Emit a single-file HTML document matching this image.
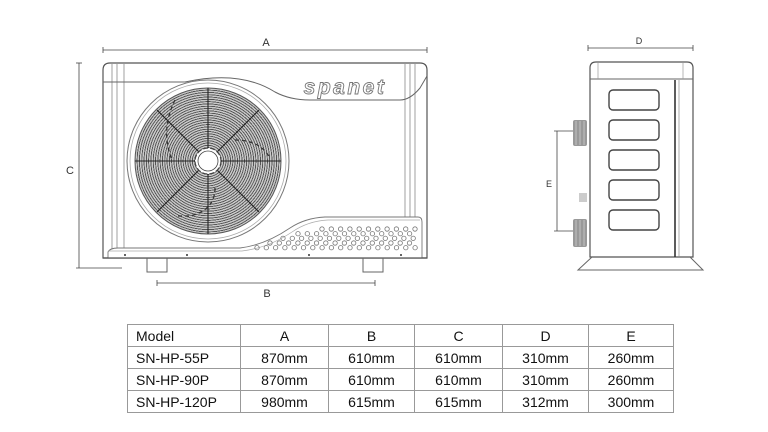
<!DOCTYPE html>
<html><head><meta charset="utf-8"><style>
html,body{margin:0;padding:0;background:#fff;}
#w{position:relative;width:768px;height:432px;overflow:hidden;background:#fff;font-family:"Liberation Sans",sans-serif;}
#grille{position:absolute;left:135px;top:88px;width:146px;height:146px;border-radius:50%;
background:repeating-radial-gradient(circle at 50% 50%,#c9c9c9 0,#c9c9c9 1.3px,#555 1.5px,#555 2.3px);}
svg{position:absolute;left:0;top:0;}
table{position:absolute;left:127px;top:324px;border-collapse:collapse;font-family:"Liberation Sans",sans-serif;font-size:14px;color:#111;}
td{border:1px solid #999;height:21px;padding:0;text-align:center;}
td.m{text-align:left;padding-left:8px;}
</style></head><body><div id="w">
<div id="grille"></div>
<svg width="768" height="432" viewBox="0 0 768 432" fill="none" stroke="#555" stroke-width="1">
<g stroke="#444" stroke-width="0.8">
<line x1="103" y1="50" x2="427" y2="50"/><line x1="103" y1="47" x2="103" y2="53"/><line x1="427" y1="47" x2="427" y2="53"/>
<line x1="79" y1="63" x2="79" y2="268"/><line x1="76" y1="63" x2="82" y2="63"/><line x1="76" y1="268" x2="122" y2="268"/>
<line x1="157" y1="283" x2="375" y2="283"/><line x1="157" y1="280" x2="157" y2="286"/><line x1="375" y1="280" x2="375" y2="286"/>
</g>
<g fill="#333" stroke="none" font-size="11" font-family="Liberation Sans,sans-serif" text-anchor="middle">
<text x="266" y="46">A</text><text x="70" y="174">C</text><text x="267" y="297">B</text>
<text x="639" y="44" font-size="9">D</text><text x="549" y="187" font-size="9">E</text>
</g>
<path d="M103 258 V70 Q103 63 110 63 H420 Q427 63 427 70 V258 Z" stroke="#555" stroke-width="1.2"/>
<g stroke="#888" stroke-width="0.8">
<line x1="112" y1="64" x2="112" y2="250"/><line x1="117" y1="64" x2="117" y2="250"/><line x1="124" y1="64" x2="124" y2="250"/>
<line x1="405" y1="64" x2="405" y2="218"/><line x1="410" y1="64" x2="410" y2="218"/><line x1="415" y1="64" x2="415" y2="218"/>
</g>
<path d="M103 82 H185 Q240 70 275 92 Q290 100 310 100 H400 Q410 100 420 88 L427 76" stroke="#666" stroke-width="1"/>
<text x="345" y="94" font-family="Liberation Sans,sans-serif" font-size="21" font-style="italic" font-weight="bold" fill="#fff" stroke="#777" stroke-width="0.9" text-anchor="middle" letter-spacing="2.5">spanet</text>
<circle cx="208" cy="161" r="81" stroke="#777" stroke-width="1"/>
<circle cx="208" cy="161" r="78" stroke="#aaa" stroke-width="0.8"/>
<circle cx="208" cy="161" r="73" stroke="#555" stroke-width="1"/>
<g stroke="#222" stroke-width="1.1">
<line x1="135" y1="161" x2="281" y2="161"/><line x1="208" y1="88" x2="208" y2="234"/>
<line x1="157" y1="110" x2="259" y2="212"/><line x1="259" y1="110" x2="157" y2="212"/>
</g>
<g stroke="#333" stroke-width="1.3" stroke-dasharray="4 3">
<path d="M175 100 Q160 130 172 160"/><path d="M235 140 Q260 140 270 158"/><path d="M215 188 Q215 210 190 216 L176 216"/>
</g>
<circle cx="208" cy="161" r="13" fill="#fff" stroke="#444" stroke-width="1.2" stroke-dasharray="5 2"/>
<circle cx="208" cy="161" r="10" fill="#fff" stroke="#444" stroke-width="0.8"/>
<path d="M108 258 V252 Q110 248 118 248 H240 Q265 245 290 228 Q305 218 325 217 H418 Q422 217 422 222 V258" fill="#fff" stroke="#777" stroke-width="0.9"/>
<path d="M108 251 H242 Q268 248 292 232 Q308 221 328 220 H420" stroke="#aaa" stroke-width="0.7"/>
<line x1="103" y1="258" x2="427" y2="258" stroke="#555" stroke-width="1.2"/>
<g fill="#333" stroke="none"><circle cx="125" cy="255" r="1"/><circle cx="187" cy="255" r="1"/><circle cx="309" cy="255" r="1"/><circle cx="401" cy="255" r="1"/></g>
<g stroke="#777" stroke-width="0.8" id="holes"></g>
<path d="M147 258 V272 H167 V258 M363 258 V272 H383 V258" stroke="#666"/>
<g stroke="#444" stroke-width="0.8">
<line x1="588" y1="48" x2="693" y2="48"/><line x1="588" y1="45" x2="588" y2="51"/><line x1="693" y1="45" x2="693" y2="51"/>
<line x1="557" y1="131" x2="557" y2="231"/><line x1="554" y1="131" x2="575" y2="131"/><line x1="554" y1="231" x2="575" y2="231"/>
</g>
<path d="M590 257 V68 Q590 62 596 62 H687 Q693 62 693 68 V257 Z" stroke="#555" stroke-width="1.2"/>
<line x1="590" y1="79" x2="693" y2="79" stroke="#666"/>
<line x1="598" y1="63" x2="598" y2="79" stroke="#999" stroke-width="0.7"/><line x1="683" y1="63" x2="683" y2="79" stroke="#999" stroke-width="0.7"/>
<line x1="675" y1="80" x2="675" y2="257" stroke="#333" stroke-width="1.6"/>
<line x1="679" y1="80" x2="679" y2="257" stroke="#888" stroke-width="0.7"/>
<g stroke="#444" stroke-width="1.4">
<rect x="609" y="90" width="50" height="20" rx="4"/><rect x="609" y="120" width="50" height="20" rx="4"/>
<rect x="609" y="150" width="50" height="20" rx="4"/><rect x="609" y="180" width="50" height="20" rx="4"/>
<rect x="609" y="210" width="50" height="20" rx="4"/>
</g>
<g fill="#999" stroke="none"><rect x="573" y="120" width="14" height="26" rx="2"/><rect x="573" y="219" width="14" height="28" rx="2"/><rect x="579" y="193" width="8" height="9" fill="#ccc"/></g>
<g stroke="#ddd" stroke-width="0.6"><line x1="576" y1="121" x2="576" y2="145"/><line x1="580" y1="121" x2="580" y2="145"/><line x1="584" y1="121" x2="584" y2="145"/><line x1="576" y1="220" x2="576" y2="246"/><line x1="580" y1="220" x2="580" y2="246"/><line x1="584" y1="220" x2="584" y2="246"/></g>
<path d="M592 257 L578 270 H703 L690 257" stroke="#666"/>
</svg>
<script>
var g=document.getElementById('holes'),s='';
var rows=[[229,322],[233.7,298],[238.3,283],[243,270],[247.7,257]];
rows.forEach(function(r){for(var x=r[1];x<=417;x+=9.3){s+='<circle cx="'+x.toFixed(1)+'" cy="'+r[0]+'" r="2.2"/>';}});
g.innerHTML=s;
</script>
<table>
<tr><td class="m" style="width:104px">Model</td><td style="width:87px">A</td><td style="width:85px">B</td><td style="width:87px">C</td><td style="width:85px">D</td><td style="width:84px">E</td></tr>
<tr><td class="m">SN-HP-55P</td><td>870mm</td><td>610mm</td><td>610mm</td><td>310mm</td><td>260mm</td></tr>
<tr><td class="m">SN-HP-90P</td><td>870mm</td><td>610mm</td><td>610mm</td><td>310mm</td><td>260mm</td></tr>
<tr><td class="m">SN-HP-120P</td><td>980mm</td><td>615mm</td><td>615mm</td><td>312mm</td><td>300mm</td></tr>
</table>
</div></body></html>
